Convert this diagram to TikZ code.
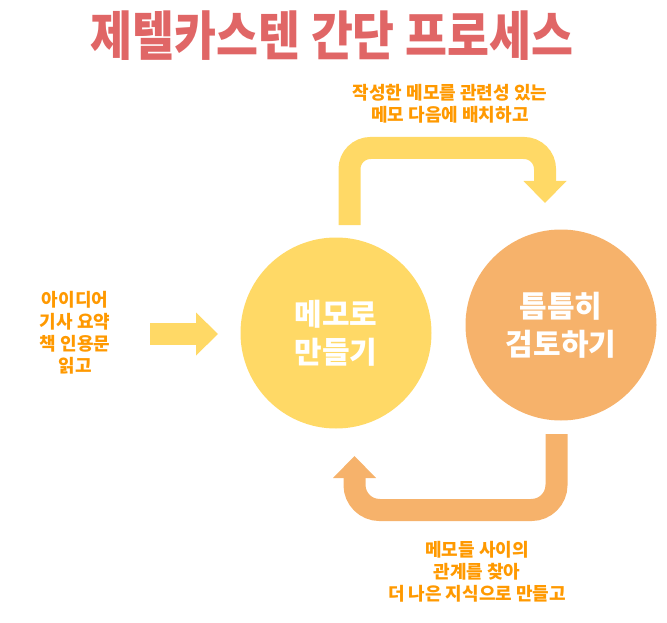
\documentclass[tikz,border=0pt]{standalone}
\usepackage{fontspec}
\usetikzlibrary{arrows.meta}
\newfontfamily\kr{Noto Sans CJK KR}
\definecolor{titlered}{HTML}{E06666}
\definecolor{labelorange}{HTML}{FF9900}
\definecolor{memoyellow}{HTML}{FFD966}
\definecolor{revieworange}{HTML}{F6B26B}
\tikzset{
  titletext/.style={font=\kr\bfseries\fontsize{53}{56}\selectfont, text=titlered, inner sep=0pt},
  steplabel/.style={font=\kr\bfseries\fontsize{18}{22}\selectfont, text=labelorange, align=center, inner sep=0pt},
  stepcircle/.style={circle, minimum size=191pt, inner sep=0pt, text=white, align=center,
     font=\kr\bfseries\fontsize{30}{38}\selectfont},
  flowarrow/.style={line width=22pt, line cap=butt, -{Triangle[width=43pt,length=22pt,line width=0pt]}},
}
\begin{document}
\begin{tikzpicture}[x=1pt,y=-1pt]
\useasboundingbox (0,0) rectangle (667,623);
\node[titletext] (title) at (332,36) {\scalebox{0.86}[1]{제텔카스텐 간단 프로세스}};
\node[stepcircle, fill=memoyellow] (memo) at (336,333) {메모로\\만들기};
\node[stepcircle, fill=revieworange] (review) at (561,325) {틈틈히\\검토하기};
\node[steplabel] (input) at (75,333) {아이디어\\기사 요약\\책 인용문\\읽고};
\node[steplabel] (toplabel) at (450,104) {작성한 메모를 관련성 있는\\메모 다음에 배치하고};
\node[steplabel] (botlabel) at (477,572) {메모들 사이의\\관계를 찾아\\더 나은 지식으로 만들고};
\coordinate (inA) at (150,334);
\coordinate (inB) at (218,334);
\coordinate (topA) at (349.5,225);
\coordinate (topB) at (545,203);
\coordinate (botA) at (556.5,434);
\coordinate (botB) at (354.5,456);
\draw[flowarrow, memoyellow] (inA) -- (inB);
\draw[flowarrow, memoyellow, rounded corners=21pt] (topA) |- (topB |- 0,148) -- (topB);
\draw[flowarrow, revieworange, rounded corners=25pt] (botA) |- (botB |- 0,510) -- (botB);
\end{tikzpicture}
\end{document}
